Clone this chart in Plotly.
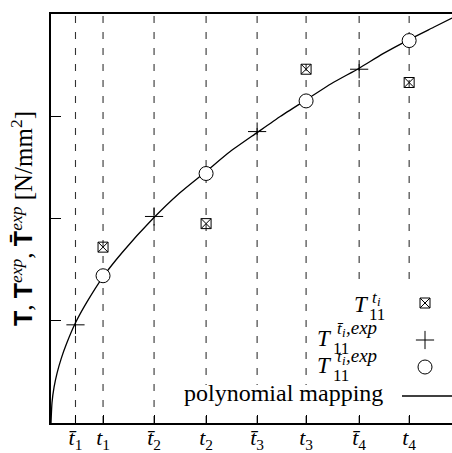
import plotly.graph_objects as go

# ---- data ----
t_bar = [0.24, 1.01, 2.02, 3.02]          # positions of t̄_i
t_pos = [0.51, 1.52, 2.50, 3.51]          # positions of t_i
T11_ti = [1.72, 1.95, 3.46, 3.33]         # squares with x (at t_i)
T11_tbar_exp = [0.96, 2.02, 2.85, 3.46]   # plus markers (at t̄_i)
T11_ti_exp = [1.44, 2.44, 3.15, 3.74]     # circles (at t_i)

curve_x = [0, 0.01, 0.03, 0.06, 0.1, 0.15, 0.24, 0.35, 0.51, 0.7, 1.0, 1.25,
           1.52, 1.75, 2.02, 2.25, 2.5, 2.75, 3.02, 3.25, 3.51, 3.75, 3.93]
curve_y = [0, 0.2, 0.35, 0.49, 0.63, 0.77, 0.98, 1.18, 1.43, 1.67, 2.0, 2.24,
           2.46, 2.65, 2.84, 3.0, 3.16, 3.32, 3.47, 3.61, 3.75, 3.87, 3.96]

tick_vals = [t_bar[0], t_pos[0], t_bar[1], t_pos[1], t_bar[2], t_pos[2], t_bar[3], t_pos[3]]
tick_text = ["<i>t\u0304</i><sub>1</sub>", "<i>t</i><sub>1</sub>",
             "<i>t\u0304</i><sub>2</sub>", "<i>t</i><sub>2</sub>",
             "<i>t\u0304</i><sub>3</sub>", "<i>t</i><sub>3</sub>",
             "<i>t\u0304</i><sub>4</sub>", "<i>t</i><sub>4</sub>"]
y_ticks = [1, 2, 3]

SERIF = "Liberation Serif"
W, H = 452, 453
L, R, T, B = 51, 0, 14, 30
PW, PH = W - L - R, H - T - B


def px(x):
    return (x - L) / PW


def py(y):
    return (H - B - y) / PH


fig = go.Figure()

fig.add_trace(go.Scatter(x=curve_x, y=curve_y, mode="lines",
                         line=dict(color="black", width=1.3, shape="spline", smoothing=0.6),
                         showlegend=False, hoverinfo="skip"))
fig.add_trace(go.Scatter(x=t_pos, y=T11_ti, mode="markers",
                         marker=dict(symbol="square-x-open", size=10, color="black",
                                     line=dict(width=1, color="black")),
                         showlegend=False))
fig.add_trace(go.Scatter(x=t_bar, y=T11_tbar_exp, mode="markers",
                         marker=dict(symbol="cross-thin", size=13,
                                     line=dict(width=1, color="black")),
                         showlegend=False))
fig.add_trace(go.Scatter(x=t_pos, y=T11_ti_exp, mode="markers",
                         marker=dict(symbol="circle", size=14, color="white",
                                     line=dict(width=1, color="black")),
                         showlegend=False))

# legend symbols on an overlay paper-like axis
fig.add_trace(go.Scatter(x=[px(425)], y=[py(303)], mode="markers", xaxis="x2", yaxis="y2",
                         marker=dict(symbol="square-x-open", size=10, color="black",
                                     line=dict(width=1, color="black")), showlegend=False))
fig.add_trace(go.Scatter(x=[px(425)], y=[py(340)], mode="markers", xaxis="x2", yaxis="y2",
                         marker=dict(symbol="cross-thin", size=13,
                                     line=dict(width=1, color="black")), showlegend=False))
fig.add_trace(go.Scatter(x=[px(425)], y=[py(367)], mode="markers", xaxis="x2", yaxis="y2",
                         marker=dict(symbol="circle", size=14, color="white",
                                     line=dict(width=1, color="black")), showlegend=False))
fig.add_trace(go.Scatter(x=[px(402), 1.0], y=[py(396), py(396)], mode="lines", xaxis="x2", yaxis="y2",
                         line=dict(color="black", width=1.3), showlegend=False))

shapes = []
for xv in tick_vals:
    shapes.append(dict(type="line", xref="x", yref="paper", x0=xv, x1=xv, y0=0, y1=1,
                       layer="below", line=dict(color="#333", width=1.1, dash="7px,9px")))
# opaque legend background
shapes.append(dict(type="rect", xref="paper", yref="paper", x0=px(312), x1=1.0,
                   y0=py(385), y1=py(286), fillcolor="white", line=dict(width=0), layer="between"))
shapes.append(dict(type="rect", xref="paper", yref="paper", x0=px(182), x1=1.0,
                   y0=py(411), y1=py(385), fillcolor="white", line=dict(width=0), layer="between"))

ann = []


def txt(text, x, baseline, size, anchor="left", italic=True):
    # place text by its left (or right) edge and its baseline
    mid = baseline - 0.3375 * size
    ann.append(dict(text=("<i>%s</i>" % text) if italic else text,
                    x=px(x), y=py(mid), xref="paper", yref="paper",
                    xanchor=anchor, yanchor="middle", showarrow=False, borderpad=0,
                    font=dict(family=SERIF, size=size, color="black")))


# entry 1 : T_11^{t_i}
txt("T", 353, 312, 23)
txt("11", 368, 320, 17, italic=False)
txt("t", 371, 303, 17)
txt("i", 376, 306, 13)
# entry 2 : T_11^{t̄_i,exp}
txt("T", 316, 346, 23)
txt("11", 332, 354, 17, italic=False)
txt("t\u0304", 336, 334, 17)
txt("i", 341, 337, 13)
txt(",exp", 345, 334, 19)
# entry 3 : T_11^{t_i,exp}
txt("T", 316, 373, 23)
txt("11", 332, 381, 17, italic=False)
txt("t", 336, 362, 17)
txt("i", 341, 365, 13)
txt(",exp", 345, 362, 19)
# entry 4
txt("polynomial mapping", 384, 401, 24, anchor="right", italic=False)

fig.update_layout(
    width=W, height=H, margin=dict(l=L, r=R, t=T, b=B),
    paper_bgcolor="white", plot_bgcolor="white",
    shapes=shapes, annotations=ann,
    xaxis=dict(range=[0, 3.93], showgrid=False, zeroline=False, showline=True,
               linecolor="black", linewidth=2, mirror=True, ticks="inside", ticklen=8,
               tickcolor="black", tickwidth=1.2, tickvals=tick_vals, ticktext=tick_text,
               automargin=False, ticklabelstandoff=-6,
               tickfont=dict(family=SERIF, size=22, color="black")),
    yaxis=dict(range=[0, 4], showgrid=False, zeroline=False, showline=True,
               linecolor="black", linewidth=2, ticks="inside", ticklen=10,
               tickcolor="black", tickwidth=1.2, tickvals=y_ticks, showticklabels=False,
               automargin=False,
               title=dict(text="<span style=\"font-family:Liberation Sans\"><b>T</b></span>, "
                               "<span style=\"font-family:Liberation Sans\"><b>T</b></span><sup><i>exp</i></sup>, "
                               "<span style=\"font-family:Liberation Sans\"><b>T\u0304</b></span><sup><i>exp</i></sup> "
                               "[N/mm<sup>2</sup>]",
                          font=dict(family=SERIF, size=25, color="black"), standoff=9)),
    xaxis2=dict(range=[0, 1], overlaying="x", visible=False),
    yaxis2=dict(range=[0, 1], overlaying="y", visible=False),
)

fig.write_html("out.html")
